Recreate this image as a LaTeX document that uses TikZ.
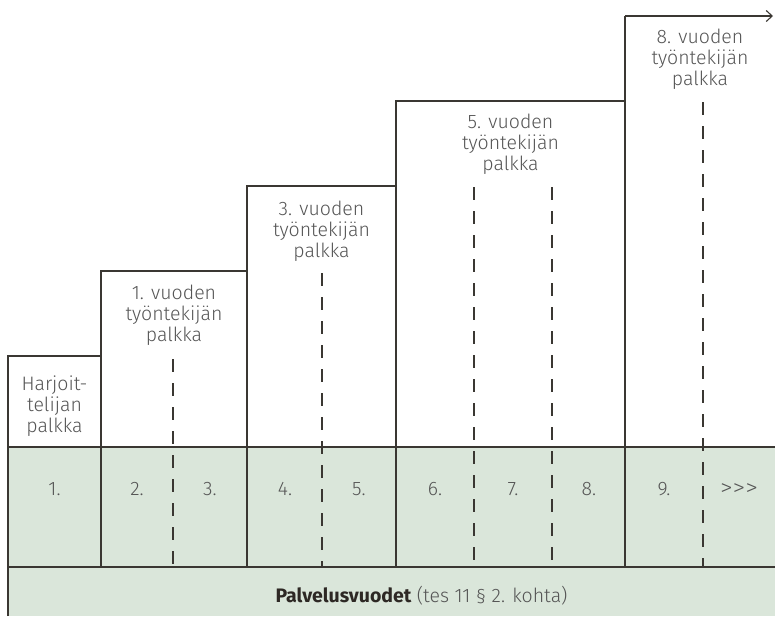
\documentclass[tikz,border=0pt]{standalone}
\usepackage{fontspec}
\setmainfont{Fira Sans}[UprightFont={* Light},BoldFont={* Bold}]
\usetikzlibrary{arrows.meta}
\definecolor{rowgreen}{RGB}{218,230,218}
\definecolor{linecol}{RGB}{58,55,50}
\definecolor{txtcol}{RGB}{85,85,85}
\definecolor{boldcol}{RGB}{45,40,36}
\tikzset{
  solidline/.style={draw=linecol,line width=1.3pt},
  dashline/.style={draw=linecol,line width=1.3pt,dash pattern=on 13pt off 11pt},
  steplabel/.style={text=txtcol,font=\fontsize{19.5}{21}\selectfont,align=center,anchor=base,inner sep=0pt},
  yearnum/.style={text=txtcol,font=\fontsize{19.5}{21.5}\selectfont,anchor=base,inner sep=0pt},
}
\begin{document}
\begin{tikzpicture}[x=1pt,y=-1pt]
\useasboundingbox (0,0) rectangle (775,616);
% green rows
\fill[rowgreen] (8,447) rectangle (775,616);
% horizontal lines of rows
\draw[solidline] (8,447) -- (775,447);
\draw[solidline] (8,567) -- (775,567);
% staircase outline
\draw[solidline] (8,616) -- (8,356) -- (101,356);
\draw[solidline] (101,567) -- (101,271) -- (247,271);
\draw[solidline] (247,567) -- (247,186) -- (396,186);
\draw[solidline] (396,567) -- (396,101) -- (625,101);
\draw[solidline] (625,567) -- (625,16);
\coordinate (arrstart) at (625,16);
\coordinate (arrend) at (773,16);
\draw[solidline,-{Straight Barb[length=6pt,width=11pt,line width=1.1pt]}] (arrstart) -- (arrend);
% dashed dividers
\draw[dashline] (173,359) -- (173,567);
\draw[dashline] (322,273) -- (322,567);
\draw[dashline] (474,187) -- (474,567);
\draw[dashline] (552,187) -- (552,567);
\draw[dashline] (703,102) -- (703,567);
% step labels (anchor = baseline of last line)
\node[steplabel] (s0) at (54.5,432) {Harjoit-\\telijan\\palkka};
\node[steplabel] (s1) at (174,341) {1. vuoden\\työntekijän\\palkka};
\node[steplabel] (s3) at (321.5,257) {3. vuoden\\työntekijän\\palkka};
\node[steplabel] (s5) at (510.5,170) {5. vuoden\\työntekijän\\palkka};
\node[steplabel] (s8) at (700,85) {8. vuoden\\työntekijän\\palkka};
% year numbers
\node[yearnum] (y1) at (54.5,495) {1.};
\node[yearnum] (y2) at (137,495) {2.};
\node[yearnum] (y3) at (210,495) {3.};
\node[yearnum] (y4) at (285,495) {4.};
\node[yearnum] (y5) at (359,495) {5.};
\node[yearnum] (y6) at (435,495) {6.};
\node[yearnum] (y7) at (513,495) {7.};
\node[yearnum] (y8) at (589,495) {8.};
\node[yearnum] (y9) at (664,495) {9.};
\node[yearnum] (ymore) at (739,495) {\scalebox{1.3}[1.15]{>{}>{}>}};
% bottom caption
\node[yearnum] (caption) at (421.5,602) {\textcolor{boldcol}{\bfseries Palvelusvuodet} (tes 11 § 2. kohta)};
\end{tikzpicture}
\end{document}
